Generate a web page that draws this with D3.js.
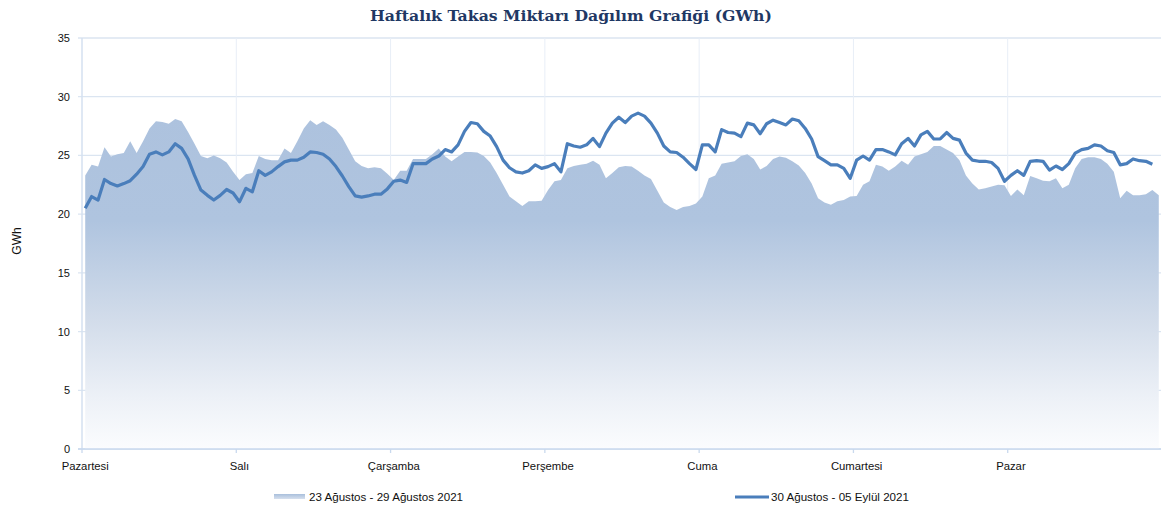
<!DOCTYPE html>
<html>
<head>
<meta charset="utf-8">
<script src="https://cdn.jsdelivr.net/npm/d3@7"></script>
<style>
  body { margin: 0; background: #fff; }
  svg { display: block; font-family: "Liberation Sans", Arial, sans-serif; }
</style>
</head>
<body>
<svg id="chart" width="1161" height="510"></svg>
<script>
const days = ["Pazartesi", "Salı", "Çarşamba", "Perşembe", "Cuma", "Cumartesi", "Pazar"];
const yTicks = [0, 5, 10, 15, 20, 25, 30, 35];

const prevWeekLabel = "23 Ağustos - 29 Ağustos 2021";
const thisWeekLabel = "30 Ağustos - 05 Eylül 2021";

// hourly values, GWh (previous week, area)
const prevWeek = [
  23.3, 24.2, 24.05, 25.7, 24.9, 25.1, 25.2, 26.2, 25.2, 26.2, 27.3, 27.9,
  27.85, 27.7, 28.1, 27.9, 27.0, 26.0, 24.95, 24.75, 25.0, 24.75, 24.4, 23.6,
  22.9, 23.4, 23.5, 24.95, 24.7, 24.6, 24.6, 25.6, 25.2, 26.2, 27.3, 28.0,
  27.6, 27.9, 27.6, 27.2, 26.5, 25.5, 24.5, 24.1, 23.9, 24.0, 23.9, 23.45,
  22.9, 23.7, 23.7, 24.7, 24.7, 24.7, 25.1, 25.6, 24.9, 24.5, 24.9, 25.3,
  25.3, 25.25, 24.95, 24.4, 23.5, 22.5, 21.5, 21.1, 20.7, 21.1, 21.1, 21.15,
  22.05, 22.8, 22.9, 23.9, 24.1, 24.2, 24.3, 24.55, 24.2, 23.05, 23.5, 24.0,
  24.1, 24.05, 23.7, 23.3, 23.0, 22.0, 21.0, 20.6, 20.35, 20.6, 20.7, 20.9,
  21.5, 23.05, 23.3, 24.3, 24.4, 24.5, 24.95, 25.1, 24.7, 23.8, 24.1, 24.7,
  24.9, 24.8, 24.5, 24.15, 23.5, 22.6, 21.35, 21.0, 20.8, 21.1, 21.2, 21.5,
  21.55, 22.5, 22.8, 24.2, 24.05, 23.7, 24.05, 24.55, 24.2, 24.9, 25.1, 25.3,
  25.8, 25.8, 25.5, 25.2, 24.6, 23.3, 22.6, 22.1, 22.2, 22.35, 22.5, 22.45,
  21.55, 22.1, 21.6, 23.25, 23.05, 22.85, 22.8, 23.05, 22.2, 22.5, 23.9, 24.7,
  24.85, 24.85, 24.7, 24.3, 23.6, 21.35, 22.0, 21.6, 21.6, 21.7, 22.05, 21.6
];

// hourly values, GWh (current week, line)
const thisWeek = [
  20.5, 21.5, 21.2, 22.95, 22.6, 22.4, 22.6, 22.85, 23.4, 24.05, 25.1, 25.3,
  25.05, 25.3, 26.0, 25.6, 24.7, 23.3, 22.05, 21.6, 21.2, 21.6, 22.1, 21.8,
  21.05, 22.2, 21.9, 23.7, 23.3, 23.6, 24.05, 24.45, 24.6, 24.6, 24.85, 25.3,
  25.25, 25.1, 24.7, 24.05, 23.25, 22.35, 21.55, 21.45, 21.55, 21.7, 21.7, 22.15,
  22.8, 22.9, 22.7, 24.3, 24.3, 24.3, 24.7, 24.95, 25.5, 25.3, 25.9, 27.05,
  27.8, 27.7, 27.05, 26.65, 25.75, 24.6, 23.95, 23.6, 23.5, 23.7, 24.2, 23.9,
  24.05, 24.3, 23.6, 26.0, 25.8, 25.7, 25.9, 26.45, 25.75, 26.9, 27.75, 28.25,
  27.8, 28.35, 28.6, 28.35, 27.75, 26.9, 25.8, 25.3, 25.25, 24.85, 24.3, 23.8,
  25.9, 25.9, 25.3, 27.2, 26.95, 26.9, 26.6, 27.75, 27.6, 26.85, 27.7, 28.0,
  27.8, 27.6, 28.1, 27.95, 27.3, 26.4, 24.9, 24.55, 24.2, 24.2, 23.9, 23.05,
  24.6, 24.95, 24.6, 25.5, 25.5, 25.3, 25.05, 26.0, 26.45, 25.8, 26.75, 27.05,
  26.4, 26.4, 26.95, 26.45, 26.3, 25.2, 24.6, 24.5, 24.5, 24.4, 23.9, 22.8,
  23.3, 23.7, 23.3, 24.5, 24.55, 24.5, 23.75, 24.1, 23.8, 24.3, 25.2, 25.5,
  25.6, 25.9, 25.8, 25.4, 25.25, 24.2, 24.3, 24.7, 24.55, 24.5, 24.25
];

const svg = d3.select("#chart");
const plotLeft = 82, plotRight = 1162, plotTop = 38, plotBottom = 449;

const x = d3.scaleBand()
  .domain(d3.range(prevWeek.length))
  .range([plotLeft, plotRight])
  .paddingInner(0)
  .paddingOuter(0);
const cx = (i) => x(i) + x.bandwidth() / 2;

const y = d3.scaleLinear().domain([0, 35]).range([plotBottom, plotTop]);

// title
svg.append("text")
  .attr("x", 571)
  .attr("y", 21)
  .attr("text-anchor", "middle")
  .attr("font-family", "'DejaVu Serif', 'Liberation Serif', serif")
  .attr("font-weight", "bold")
  .attr("font-size", "15.7px")
  .attr("fill", "#1f3864")
  .text("Haftalık Takas Miktarı Dağılım Grafiği (GWh)");

// gradient for the area
const defs = svg.append("defs");
const grad = defs.append("linearGradient")
  .attr("id", "areaGrad")
  .attr("gradientUnits", "userSpaceOnUse")
  .attr("x1", 0).attr("x2", 0)
  .attr("y1", y(29)).attr("y2", y(0));
grad.append("stop").attr("offset", "0%").attr("stop-color", "#adc2de");
grad.append("stop").attr("offset", "33%").attr("stop-color", "#afc4df");
grad.append("stop").attr("offset", "62%").attr("stop-color", "#d2dcea");
grad.append("stop").attr("offset", "85%").attr("stop-color", "#edf1f7");
grad.append("stop").attr("offset", "100%").attr("stop-color", "#fbfcfe");

const legGrad = defs.append("linearGradient")
  .attr("id", "legGrad")
  .attr("x1", 0).attr("x2", 0).attr("y1", 0).attr("y2", 1);
legGrad.append("stop").attr("offset", "0%").attr("stop-color", "#a9bfdc");
legGrad.append("stop").attr("offset", "100%").attr("stop-color", "#d6e0ee");

// horizontal gridlines
svg.append("g")
  .selectAll("line")
  .data(yTicks)
  .join("line")
  .attr("x1", plotLeft - 4)
  .attr("x2", plotRight)
  .attr("y1", (d) => y(d))
  .attr("y2", (d) => y(d))
  .attr("stroke", "#dbe5f1")
  .attr("stroke-width", 1.3);

// vertical gridlines at day boundaries
const dayIdx = days.map((d, k) => k * 24);
svg.append("g")
  .selectAll("line")
  .data(dayIdx.slice(1))
  .join("line")
  .attr("x1", (d) => x(d))
  .attr("x2", (d) => x(d))
  .attr("y1", plotTop)
  .attr("y2", plotBottom)
  .attr("stroke", "#e8eef7")
  .attr("stroke-width", 1);

// area
svg.append("path")
  .datum(prevWeek)
  .attr("fill", "url(#areaGrad)")
  .attr("d", d3.area()
    .x((d, i) => cx(i))
    .y0(y(0))
    .y1((d) => y(d)));

// axis lines
svg.append("line")
  .attr("x1", plotLeft).attr("x2", plotLeft)
  .attr("y1", plotTop).attr("y2", plotBottom)
  .attr("stroke", "#d5e1f0").attr("stroke-width", 1.5);
svg.append("line")
  .attr("x1", plotLeft - 4).attr("x2", plotRight)
  .attr("y1", plotBottom).attr("y2", plotBottom)
  .attr("stroke", "#c9d9ee").attr("stroke-width", 1.5);

svg.append("g")
  .selectAll("line")
  .data(dayIdx)
  .join("line")
  .attr("x1", (d) => x(d))
  .attr("x2", (d) => x(d))
  .attr("y1", plotBottom)
  .attr("y2", plotBottom + 4)
  .attr("stroke", "#c9d9ee")
  .attr("stroke-width", 1.3);

// line
svg.append("path")
  .datum(thisWeek)
  .attr("fill", "none")
  .attr("stroke", "#4a7ebb")
  .attr("stroke-width", 3.2)
  .attr("stroke-linejoin", "round")
  .attr("d", d3.line()
    .x((d, i) => cx(i))
    .y((d) => y(d)));

// y tick labels
svg.append("g")
  .selectAll("text")
  .data(yTicks)
  .join("text")
  .attr("x", 70)
  .attr("y", (d) => y(d) + 4)
  .attr("text-anchor", "end")
  .attr("font-size", "11px")
  .attr("fill", "#111")
  .text((d) => d);

svg.append("text")
  .attr("transform", "translate(21,241) rotate(-90)")
  .attr("text-anchor", "middle")
  .attr("font-size", "12px")
  .attr("fill", "#111")
  .text("GWh");

// x labels
svg.append("g")
  .selectAll("text")
  .data(days)
  .join("text")
  .attr("x", (d, k) => cx(k * 24))
  .attr("y", 470)
  .attr("text-anchor", "middle")
  .attr("font-size", "11.3px")
  .attr("fill", "#111")
  .text((d) => d);

// legend
svg.append("rect")
  .attr("x", 274).attr("y", 494)
  .attr("width", 31).attr("height", 5)
  .attr("fill", "url(#legGrad)");
svg.append("text")
  .attr("x", 309).attr("y", 501)
  .attr("font-size", "11.6px")
  .attr("fill", "#111")
  .text(prevWeekLabel);

svg.append("line")
  .attr("x1", 735).attr("x2", 769)
  .attr("y1", 497).attr("y2", 497)
  .attr("stroke", "#4a7ebb")
  .attr("stroke-width", 3);
svg.append("text")
  .attr("x", 771).attr("y", 501)
  .attr("font-size", "11.6px")
  .attr("fill", "#111")
  .text(thisWeekLabel);
</script>
</body>
</html>
